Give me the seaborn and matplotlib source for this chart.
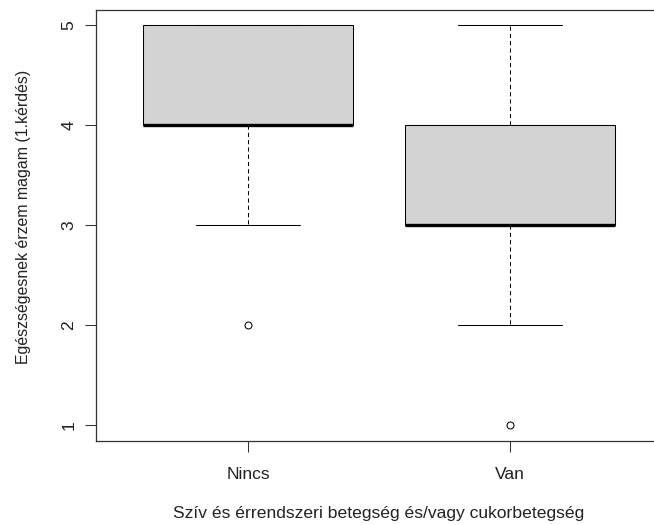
import matplotlib
matplotlib.use("Agg")
import numpy as np
import pandas as pd
import seaborn as sns
import matplotlib.pyplot as plt

categories = ["Nincs", "Van"]
nincs_values = [2, 3, 4, 4, 4, 4, 5, 5, 5]
van_values = [1, 2, 3, 3, 3, 3, 4, 4, 5]
y_ticks = [1, 2, 3, 4, 5]
x_label = "Szív és érrendszeri betegség és/vagy cukorbetegség"
y_label = "Egészségesnek érzem magam (1.kérdés)"

df = pd.DataFrame({
    "group": [categories[0]] * len(nincs_values) + [categories[1]] * len(van_values),
    "value": nincs_values + van_values,
})

sns.set_style("white")
plt.rcParams['font.family'] = ['Liberation Sans', 'DejaVu Sans']

W, H = 654, 525
fig = plt.figure(figsize=(W / 100, H / 100), dpi=100)
left, right, top, bottom = 96, 662, 9.5, 441
ax = fig.add_axes([left / W, (H - bottom) / H, (right - left) / W, (bottom - top) / H])

sns.boxplot(
    data=df, x="group", y="value", order=categories, ax=ax,
    color="#D3D3D3", saturation=1, width=0.8, whis=1.5,
    linecolor="black", linewidth=0.75,
    medianprops=dict(linewidth=2.4, color="black", solid_capstyle="butt"),
    whiskerprops=dict(linestyle=(0, (4, 3)), linewidth=0.75),
    capprops=dict(linewidth=0.75),
    flierprops=dict(marker="o", markerfacecolor="none", markeredgecolor="black",
                    markersize=5, markeredgewidth=0.75),
)

ax.set_xlim(-0.58, 1.58)
ax.set_ylim(0.84, 5.16)
ax.set_yticks(y_ticks)
ax.set_yticklabels([str(t) for t in y_ticks], rotation=90, va="center")
ax.set_xticks(range(len(categories)))
ax.set_xticklabels(categories)

for s in ax.spines.values():
    s.set_visible(True)
    s.set_color("#333333")
    s.set_linewidth(0.9)

ax.tick_params(axis="both", which="major", direction="out", length=8, width=0.75,
               color="#333333", labelsize=12.6, labelcolor="#222222",
               bottom=True, left=True)
ax.tick_params(axis="y", pad=6)
ax.tick_params(axis="x", pad=11)

ax.set_xlabel(x_label, fontsize=12.6, color="#222222", labelpad=17)
ax.set_ylabel(y_label, fontsize=11.4, color="#222222", labelpad=22, y=0.52)

fig.savefig("out.png", dpi=100)
